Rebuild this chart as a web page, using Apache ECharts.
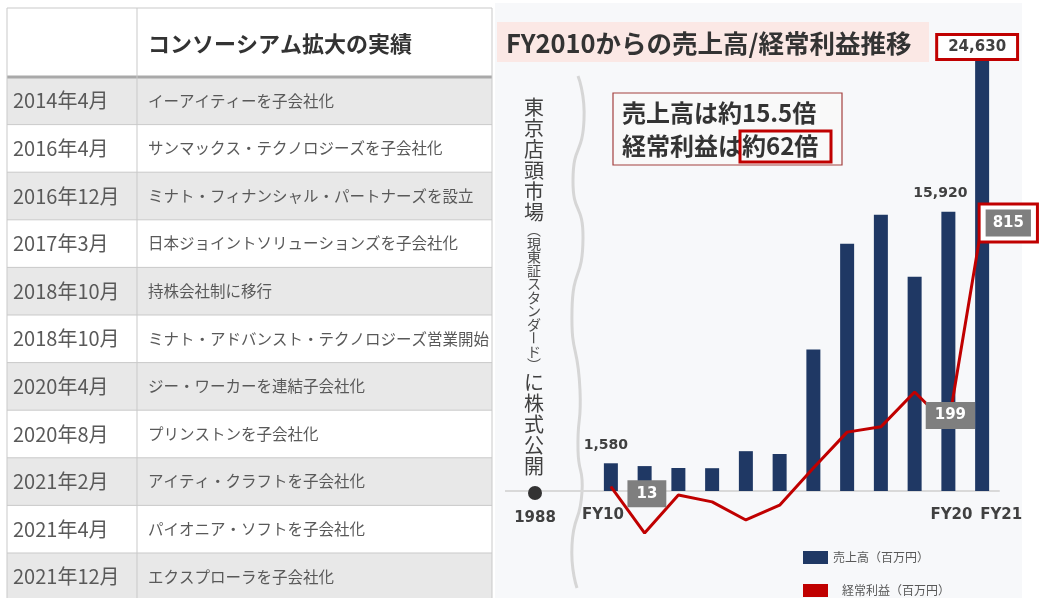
<!DOCTYPE html>
<html>
<head>
<meta charset="utf-8">
<script src="https://cdn.jsdelivr.net/npm/echarts@6/dist/echarts.min.js"></script>
<style>
  html, body { margin: 0; padding: 0; background: #fff; }
  #chart { width: 1044px; height: 598px; }
</style>
</head>
<body>
<div id="chart"></div>
<script>
// data
const categories = ['FY10', 'FY11', 'FY12', 'FY13', 'FY14', 'FY15', 'FY16', 'FY17', 'FY18', 'FY19', 'FY20', 'FY21'];
const tickLabels = ['FY10', '', '', '', '', '', '', '', '', '', 'FY20', 'FY21'];
const sales = [1580, 1420, 1310, 1300, 2270, 2110, 8070, 14100, 15750, 12210, 15920, 24630];
const profit = [13, -128, -12, -33, -88, -43, 70, 179, 195, 301, 199, 815];
const salesName = '売上高（百万円）';
const profitName = '経常利益（百万円）';

const dates = ['2014年4月', '2016年4月', '2016年12月', '2017年3月', '2018年10月', '2018年10月',
  '2020年4月', '2020年8月', '2021年2月', '2021年4月', '2021年12月'];
const events = ['イーアイティーを子会社化', 'サンマックス・テクノロジーズを子会社化', 'ミナト・フィナンシャル・パートナーズを設立',
  '日本ジョイントソリューションズを子会社化', '持株会社制に移行', 'ミナト・アドバンスト・テクノロジーズ営業開始',
  'ジー・ワーカーを連結子会社化', 'プリンストンを子会社化', 'アイティ・クラフトを子会社化',
  'パイオニア・ソフトを子会社化', 'エクスプローラを子会社化'];

const JP = '"Noto Sans CJK JP", sans-serif';
const NUM = '"DejaVu Sans", sans-serif';
const RED = '#c00000';
const NAVY = '#1f3864';

const chart = echarts.init(document.getElementById('chart'));

// left table + decorations
const g = [];
const rowTop = 77, rowH = 47.6;

g.push({ type: 'rect', shape: { x: 495, y: 3, width: 527, height: 595 }, style: { fill: '#f7f8fa' } });

g.push({ type: 'rect', shape: { x: 7, y: 8, width: 485, height: 69 }, style: { fill: '#fff' } });
dates.forEach((d, i) => {
  const y = rowTop + i * rowH;
  g.push({ type: 'rect', shape: { x: 7, y: y, width: 485, height: rowH }, style: { fill: i % 2 === 0 ? '#e8e8e8' : '#fff' } });
  if (i > 0) {
    g.push({ type: 'line', shape: { x1: 7, y1: y, x2: 492, y2: y }, style: { stroke: '#c9c9c9', lineWidth: 1 } });
  }
  g.push({ type: 'text', style: { text: d, x: 13, y: y + rowH / 2, fontSize: 20, fontFamily: JP, fill: '#595959', textVerticalAlign: 'middle' } });
  g.push({ type: 'text', style: { text: events[i], x: 148, y: y + rowH / 2, fontSize: 15.5, fontFamily: JP, fill: '#595959', textVerticalAlign: 'middle' } });
});
g.push({ type: 'line', shape: { x1: 7, y1: 8, x2: 492, y2: 8 }, style: { stroke: '#c9c9c9', lineWidth: 1 } });
g.push({ type: 'line', shape: { x1: 7, y1: 77, x2: 492, y2: 77 }, style: { stroke: '#a9a9a9', lineWidth: 3 } });
[7, 137, 492].forEach(x => {
  g.push({ type: 'line', shape: { x1: x, y1: 8, x2: x, y2: 598 }, style: { stroke: '#c9c9c9', lineWidth: 1 } });
});
g.push({ type: 'text', style: { text: 'コンソーシアム拡大の実績', x: 148, y: 44, fontSize: 22, fontWeight: 'bold', fontFamily: JP, fill: '#333', textVerticalAlign: 'middle' } });

// title
g.push({ type: 'rect', shape: { x: 497, y: 22, width: 432, height: 40 }, style: { fill: '#fbe8e5' } });
g.push({ type: 'text', style: { text: 'FY2010からの売上高/経常利益推移', x: 506, y: 43, fontSize: 25.5, fontWeight: 'bold', fontFamily: JP, fill: '#333', textVerticalAlign: 'middle' } });

// callout
g.push({ type: 'rect', shape: { x: 613, y: 93, width: 229, height: 72 }, style: { fill: '#f9f9f9', stroke: '#a3403f', lineWidth: 1.2 } });
g.push({ type: 'text', style: { text: '売上高は約15.5倍', x: 622, y: 113, fontSize: 24, fontWeight: 'bold', fontFamily: JP, fill: '#333', textVerticalAlign: 'middle' } });
g.push({ type: 'text', style: { text: '経常利益は約62倍', x: 622, y: 146, fontSize: 24, fontWeight: 'bold', fontFamily: JP, fill: '#333', textVerticalAlign: 'middle' } });
g.push({ type: 'rect', shape: { x: 740, y: 131, width: 91, height: 31 }, style: { fill: null, stroke: RED, lineWidth: 3 } });

// vertical caption
const vSegs = [
  { s: '東京店頭市場', big: true },
  { s: '︵現東証スタンダード︶', big: false },
  { s: 'に株式公開', big: true }
];
let vy = 97;
vSegs.forEach(seg => {
  Array.from(seg.s).forEach(ch => {
    const adv = seg.big ? 21 : 13.5;
    const el = {
      type: 'text', x: 534, y: vy + adv / 2,
      style: { text: ch, x: 0, y: 0, fontSize: seg.big ? 20 : 14, fontFamily: JP, fill: seg.big ? '#404040' : '#4d4d4d', textAlign: 'center', textVerticalAlign: 'middle' }
    };
    if (ch === 'ー') el.rotation = Math.PI / 2;
    g.push(el);
    vy += adv;
  });
});

// wavy divider
g.push({ type: 'polyline', shape: { points: [[578, 76], [584, 120], [573, 180], [583, 238], [572, 310], [580, 390], [578, 450], [582, 492], [572, 545], [577, 588]], smooth: 0.6 }, style: { stroke: '#d6d6d6', lineWidth: 3, fill: null } });

// baseline extension + 1988 marker
g.push({ type: 'line', shape: { x1: 505, y1: 491, x2: 594, y2: 491 }, style: { stroke: '#d9d9d9', lineWidth: 2 } });
g.push({ type: 'circle', shape: { cx: 535, cy: 493, r: 7 }, style: { fill: '#333' } });
g.push({ type: 'text', style: { text: '1988', x: 535, y: 518, fontSize: 15, fontWeight: 'bold', fontFamily: NUM, fill: '#404040', textAlign: 'center', textVerticalAlign: 'middle' } });

// series labels
const numFmt = p => Number(p.value).toLocaleString('en-US');
const plainLabel = dx => ({ show: true, position: 'top', distance: 11, offset: [dx, 0], formatter: numFmt, color: '#404040', fontFamily: NUM, fontWeight: 'bold', fontSize: 14 });
const barLabels = {
  0: plainLabel(-5),
  10: plainLabel(-8),
  11: { show: true, position: 'top', distance: 1, offset: [-5, 0], formatter: numFmt, color: '#404040', fontFamily: NUM, fontWeight: 'bold', fontSize: 15,
        backgroundColor: '#fff', borderColor: RED, borderWidth: 3, padding: [4, 10, 3, 10] }
};
const grayBox = { show: true, position: 'inside', backgroundColor: '#7f7f7f', color: '#fff', fontFamily: NUM, fontWeight: 'bold', fontSize: 15, padding: [6, 9] };
const lineLabels = {
  0: Object.assign({}, grayBox, { offset: [36, 7] }),
  10: Object.assign({}, grayBox, { offset: [2, -10] }),
  11: { show: true, position: 'right', distance: -2, formatter: p => '{g|' + p.value + '}',
        backgroundColor: '#fff', borderColor: RED, borderWidth: 3, padding: [4, 5],
        rich: { g: { backgroundColor: '#7f7f7f', color: '#fff', fontFamily: NUM, fontWeight: 'bold', fontSize: 15, padding: [6, 7] } } }
};

const tickRich = {
  l: { fontFamily: NUM, fontWeight: 'bold', fontSize: 15, color: '#404040', padding: [0, 16, 0, 0] },
  m: { fontFamily: NUM, fontWeight: 'bold', fontSize: 15, color: '#404040', padding: [0, 0, 0, 6] },
  r: { fontFamily: NUM, fontWeight: 'bold', fontSize: 15, color: '#404040', padding: [0, 0, 0, 38] }
};

// grid bottom sits on the zero baseline (y=491); negative profit is drawn below it (clip off)
chart.setOption({
  animation: false,
  backgroundColor: '#fff',
  graphic: { elements: g },
  grid: { left: 594, right: 45, top: 40, bottom: 107, containLabel: false, outerBoundsMode: 'none' },
  legend: {
    orient: 'vertical', left: 803, top: 551, padding: 0, itemWidth: 25, itemHeight: 13, itemGap: 20,
    data: [{ name: salesName, icon: 'rect' }, { name: profitName, icon: 'rect' }],
    formatter: n => n === profitName ? '{p|' + n + '}' : n,
    textStyle: { fontFamily: JP, fontSize: 12, color: '#595959', rich: { p: { fontFamily: JP, fontSize: 12, color: '#595959', padding: [0, 0, 0, 9] } } }
  },
  xAxis: {
    type: 'category', data: categories,
    axisLine: { lineStyle: { color: '#d9d9d9', width: 2 } },
    axisTick: { show: false },
    axisLabel: {
      interval: 0, margin: 17,
      formatter: (v, i) => {
        const t = tickLabels[i];
        if (!t) return '';
        return i === 0 ? '{l|' + t + '}' : (i === categories.length - 1 ? '{r|' + t + '}' : '{m|' + t + '}');
      },
      rich: tickRich
    }
  },
  yAxis: [
    { type: 'value', min: 0, max: 25707, show: false, splitLine: { show: false } },
    { type: 'value', min: 0, max: 1371, show: false, splitLine: { show: false } }
  ],
  series: [
    {
      name: salesName, type: 'bar', barWidth: 14, yAxisIndex: 0,
      itemStyle: { color: NAVY },
      data: sales.map((v, i) => barLabels[i] ? { value: v, label: barLabels[i] } : v)
    },
    {
      name: profitName, type: 'line', yAxisIndex: 1, clip: false,
      symbol: 'circle', symbolSize: 1, showSymbol: true,
      itemStyle: { color: RED }, lineStyle: { color: RED, width: 3 },
      data: profit.map((v, i) => lineLabels[i] ? { value: v, label: lineLabels[i] } : v)
    }
  ]
});
</script>
</body>
</html>
